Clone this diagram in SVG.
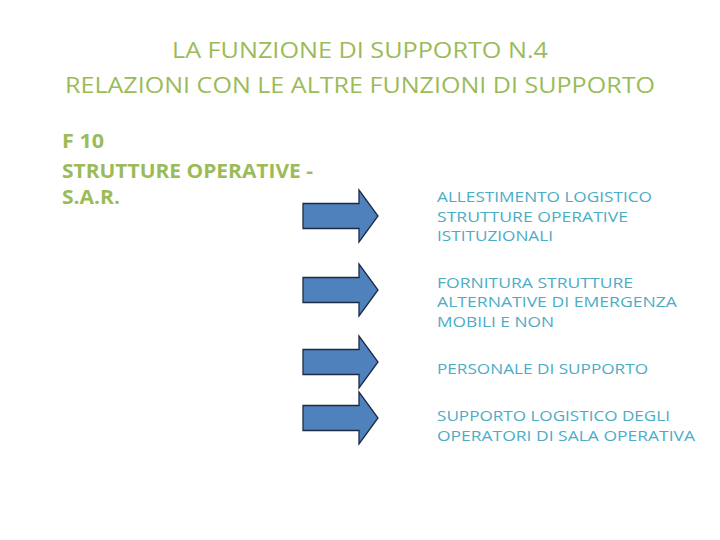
<svg xmlns="http://www.w3.org/2000/svg" width="720" height="540" viewBox="0 0 720 540">
<defs>
<style>
.t{font-family:"Open Sans","Liberation Sans",sans-serif;fill:#9bbb59;font-size:22px}
.l{font-family:"Open Sans","Liberation Sans",sans-serif;fill:#9bbb59;font-size:20px;font-weight:bold}
.r{font-family:"Open Sans","Liberation Sans",sans-serif;fill:#4bacc6;font-size:15px}
.a{fill:#4f81bd;stroke:#1c2b45;stroke-width:1.3;stroke-linejoin:miter}
</style>
<path id="arr" d="M0,-12.5 H56 V-26 L75,0 L56,26 V12.5 H0 Z"/>
</defs>
<rect width="720" height="540" fill="#ffffff"/>
<g id="title">
<text class="t" x="360" y="58" text-anchor="middle" textLength="376" lengthAdjust="spacingAndGlyphs">LA FUNZIONE DI SUPPORTO N.4</text>
<text class="t" x="360" y="93" text-anchor="middle" textLength="590" lengthAdjust="spacingAndGlyphs">RELAZIONI CON LE ALTRE FUNZIONI DI SUPPORTO</text>
</g>
<g id="source">
<text class="l" x="62" y="148" textLength="42" lengthAdjust="spacingAndGlyphs">F 10</text>
<text class="l" x="62" y="178" textLength="251" lengthAdjust="spacingAndGlyphs">STRUTTURE OPERATIVE -</text>
<text class="l" x="62" y="204" textLength="58" lengthAdjust="spacingAndGlyphs">S.A.R.</text>
</g>
<g id="connectors">
<use href="#arr" class="a" x="303" y="216"/>
<use href="#arr" class="a" x="303" y="290"/>
<use href="#arr" class="a" x="303" y="362"/>
<use href="#arr" class="a" x="303" y="418"/>
</g>
<g id="node1">
<text class="r" x="437" y="202" textLength="215" lengthAdjust="spacingAndGlyphs">ALLESTIMENTO LOGISTICO</text>
<text class="r" x="437" y="222" textLength="191" lengthAdjust="spacingAndGlyphs">STRUTTURE OPERATIVE</text>
<text class="r" x="437" y="241" textLength="116" lengthAdjust="spacingAndGlyphs">ISTITUZIONALI</text>
</g>
<g id="node2">
<text class="r" x="437" y="288" textLength="196" lengthAdjust="spacingAndGlyphs">FORNITURA STRUTTURE</text>
<text class="r" x="437" y="307" textLength="240" lengthAdjust="spacingAndGlyphs">ALTERNATIVE DI EMERGENZA</text>
<text class="r" x="437" y="327" textLength="117" lengthAdjust="spacingAndGlyphs">MOBILI E NON</text>
</g>
<g id="node3">
<text class="r" x="437" y="374" textLength="211" lengthAdjust="spacingAndGlyphs">PERSONALE DI SUPPORTO</text>
</g>
<g id="node4">
<text class="r" x="437" y="421" textLength="233" lengthAdjust="spacingAndGlyphs">SUPPORTO LOGISTICO DEGLI</text>
<text class="r" x="437" y="441" textLength="258" lengthAdjust="spacingAndGlyphs">OPERATORI DI SALA OPERATIVA</text>
</g>
</svg>
